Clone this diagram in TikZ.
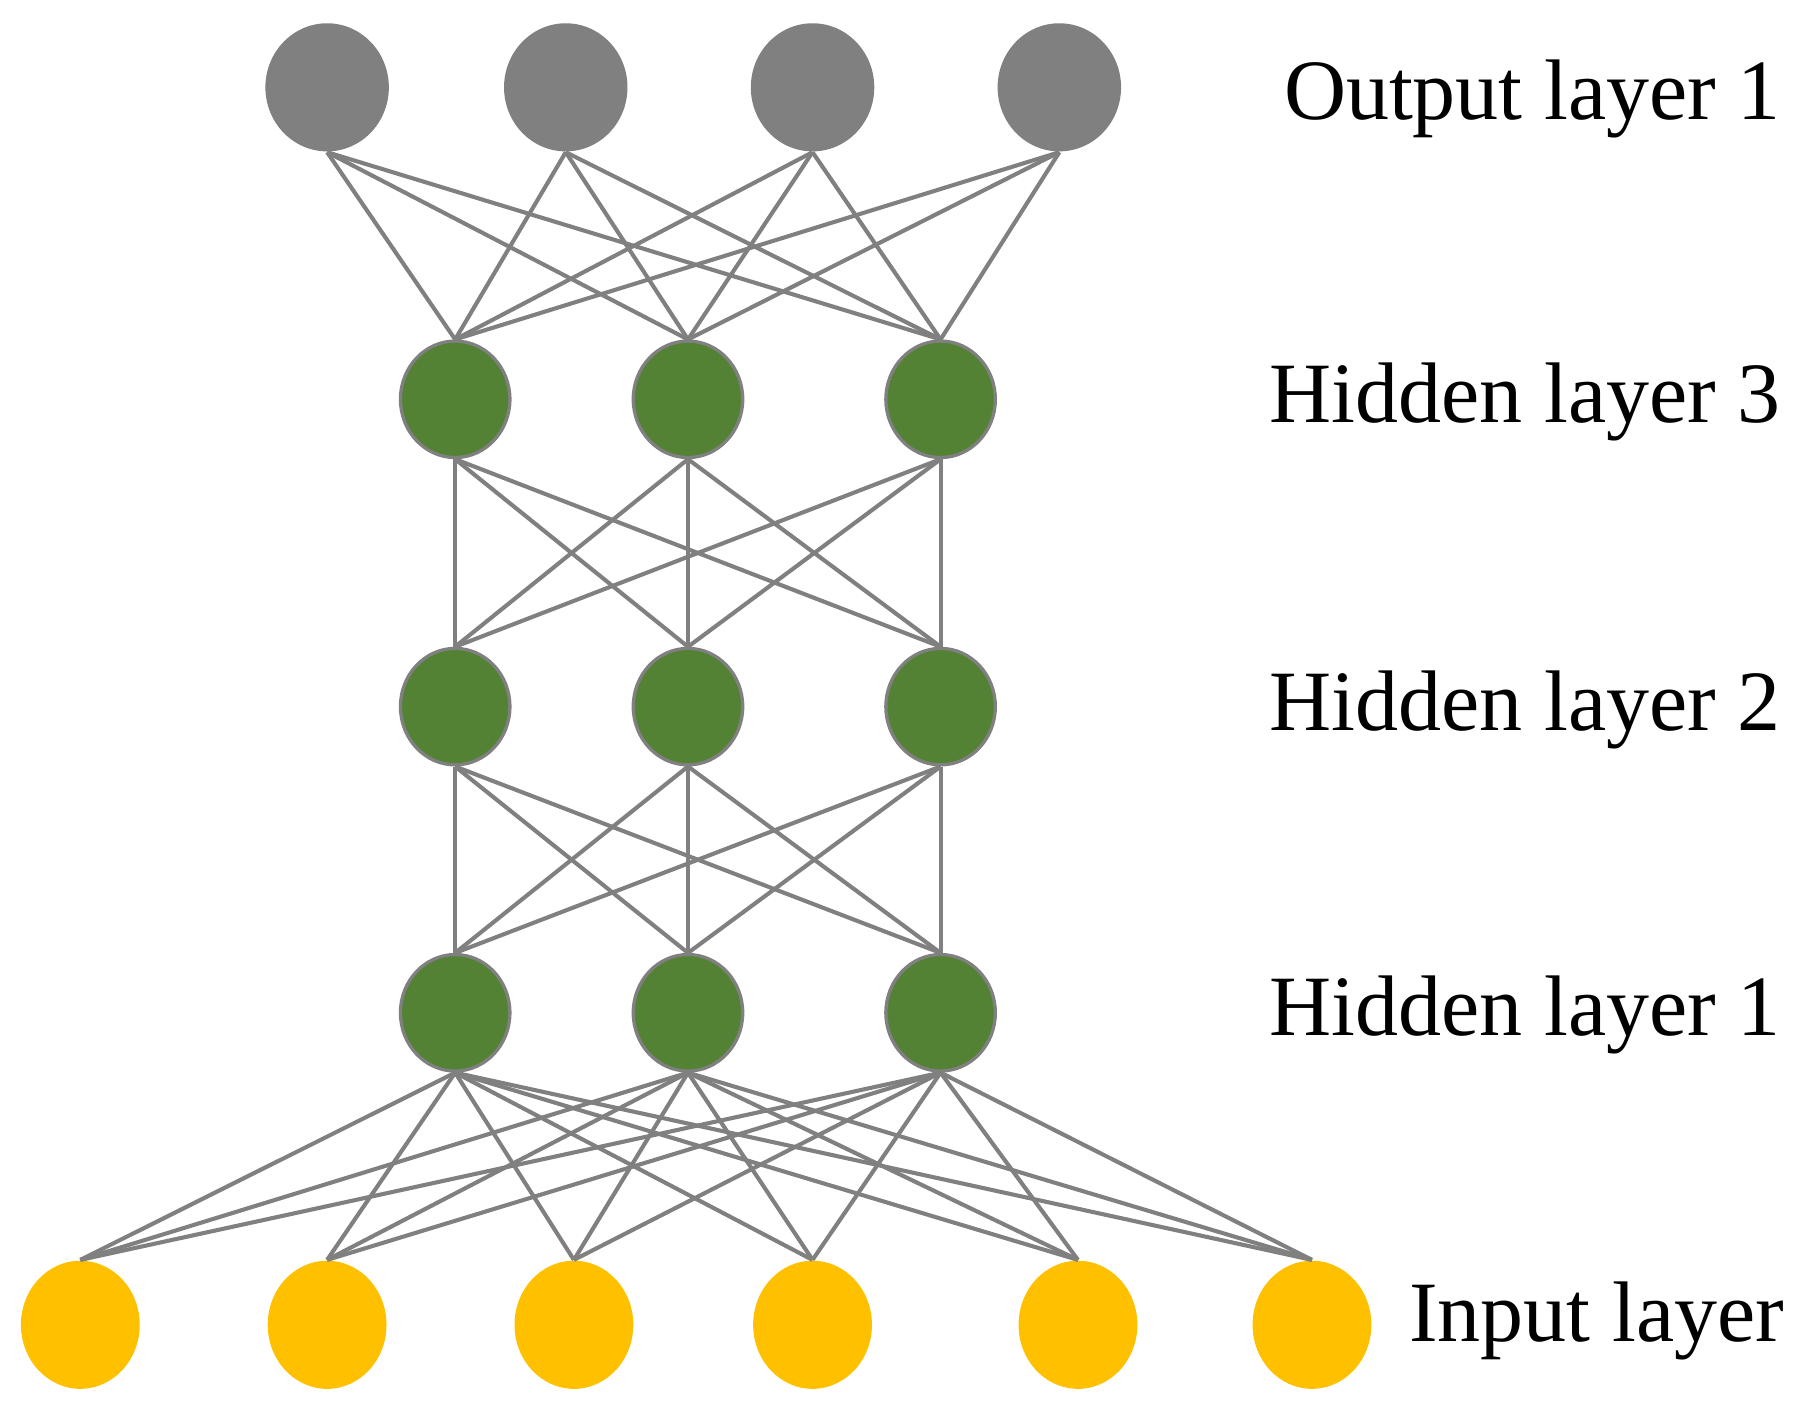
\documentclass[tikz,border=0pt]{standalone}
\usepackage{fontspec}
\setmainfont{Liberation Serif}
\usetikzlibrary{shapes.geometric}
\definecolor{outgray}{HTML}{808080}
\definecolor{hidgreen}{HTML}{548235}
\definecolor{inyellow}{HTML}{FFC000}
\begin{document}
\begin{tikzpicture}
[x=0.01cm, y=-0.01cm,
output/.style={ellipse, fill=outgray, minimum width=1.06cm, minimum height=1.1cm, inner sep=0pt},
hidden/.style={ellipse, fill=hidgreen, draw=outgray, line width=0.8pt, minimum width=0.94cm, minimum height=1cm, inner sep=0pt},
input/.style={ellipse, fill=inyellow, minimum width=1.02cm, minimum height=1.1cm, inner sep=0pt},
link/.style={outgray, line width=1pt},
layer/.style={anchor=east, font=\fontsize{21}{24}\selectfont}]
\useasboundingbox (0,0) rectangle (1560,1226);
% nodes
\foreach \i/\x in {1/281,2/486,3/698,4/910}
  \node[output] (o\i) at (\x,75) {};
\foreach \i/\x in {1/391,2/591,3/808} {
  \node[hidden] (c\i) at (\x,343) {};
  \node[hidden] (b\i) at (\x,607) {};
  \node[hidden] (a\i) at (\x,870) {};
}
\foreach \i/\x in {1/69,2/281,3/493,4/698,5/926,6/1127}
  \node[input] (in\i) at (\x,1138) {};
% connections
\foreach \i in {1,...,4}
  \foreach \j in {1,2,3}
    \draw[link] (o\i.south) -- (c\j.north);
\foreach \i in {1,2,3}
  \foreach \j in {1,2,3} {
    \draw[link] (c\i.south) -- (b\j.north);
    \draw[link] (b\i.south) -- (a\j.north);
  }
\foreach \i in {1,2,3}
  \foreach \j in {1,...,6}
    \draw[link] (a\i.south) -- (in\j.north);
% labels
\node[layer] (lo) at (1542,85) {Output layer 1};
\node[layer] (l3) at (1542,345) {Hidden layer 3};
\node[layer] (l2) at (1542,610) {Hidden layer 2};
\node[layer] (l1) at (1542,872) {Hidden layer 1};
\node[layer] (li) at (1545,1135) {Input layer};
\end{tikzpicture}
\end{document}
